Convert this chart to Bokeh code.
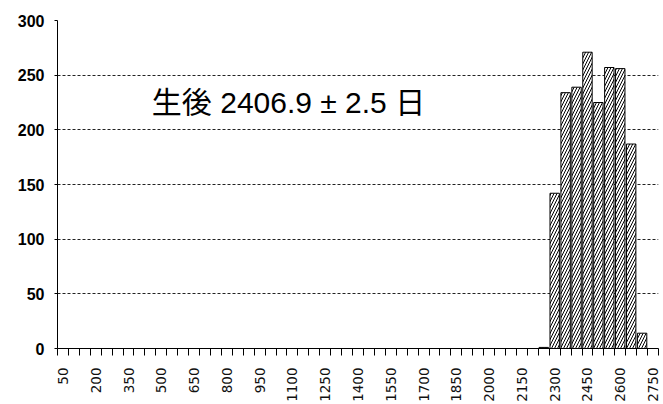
from math import pi
from bokeh.plotting import figure
from bokeh.models import Range1d, FixedTicker, Label
from bokeh.embed import file_html
from bokeh.resources import INLINE

# Category axis (days), one category per 50 days
categories = list(range(50, 2751, 50))
tick_labels = [c for c in categories if (c - 50) % 150 == 0]

# Histogram counts
bins = [2250, 2300, 2350, 2400, 2450, 2500, 2550, 2600, 2650, 2700]
counts = [1, 142, 234, 239, 271, 225, 257, 256, 187, 14]

y_ticks = [0, 50, 100, 150, 200, 250, 300]
annotation = "生後 2406.9 ± 2.5 日"

step = 50
boundaries = [c - step / 2 for c in categories] + [categories[-1] + step / 2]

p = figure(width=663, height=404, output_backend="svg", toolbar_location=None,
           x_range=Range1d(categories[0] - step / 2, categories[-1] + step / 2),
           y_range=Range1d(0, 300),
           min_border_left=57, min_border_right=5, min_border_top=20, min_border_bottom=50)
p.outline_line_color = None
p.background_fill_color = "white"
p.border_fill_color = "white"

p.vbar(x=bins, top=counts, width=step * 0.86, fill_color="white", line_color="black",
       line_width=1, hatch_pattern="/", hatch_color="black", hatch_scale=6, hatch_weight=1)

# grid
p.xgrid.visible = False
p.ygrid.ticker = FixedTicker(ticks=[t for t in y_ticks if t > 0])
p.ygrid.grid_line_color = "#222222"
p.ygrid.grid_line_dash = "3 2"
p.ygrid.grid_line_width = 1

# x axis
xa = p.xaxis[0]
xa.ticker = FixedTicker(ticks=tick_labels, minor_ticks=boundaries)
xa.major_tick_out = 0
xa.major_tick_in = 0
xa.minor_tick_out = 7
xa.minor_tick_in = 0
xa.minor_tick_line_color = "black"
xa.axis_line_color = "black"
xa.major_label_orientation = pi / 2
xa.major_label_standoff = 12
xa.major_label_text_font = "DejaVu Sans"
xa.major_label_text_font_size = "13.5px"
xa.major_label_text_color = "#111111"

# y axis
ya = p.yaxis[0]
ya.ticker = FixedTicker(ticks=y_ticks)
ya.major_tick_out = 3
ya.major_tick_in = 0
ya.minor_tick_out = 0
ya.minor_tick_in = 0
ya.axis_line_color = "black"
ya.major_tick_line_color = "black"
ya.major_label_standoff = 10
ya.major_label_text_font = "Liberation Sans"
ya.major_label_text_font_size = "16px"
ya.major_label_text_font_style = "bold"
ya.major_label_text_color = "black"

p.add_layout(Label(x=1082, y=225, text=annotation,
                   text_font="Liberation Sans, Noto Sans CJK JP",
                   text_font_size="30px", text_align="center", text_baseline="middle",
                   text_color="black"))

open("out.html", "w").write(file_html(p, INLINE))
